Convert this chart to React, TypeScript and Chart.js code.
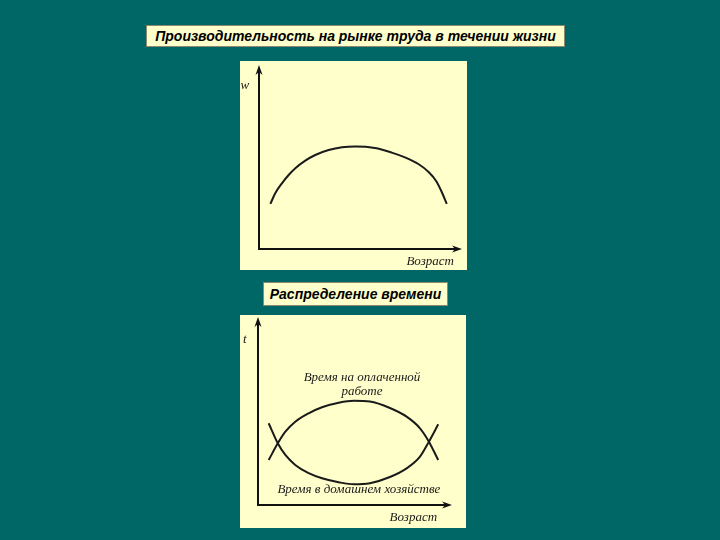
import React, { useEffect, useRef } from "react";
import { Chart, registerables } from "chart.js";

Chart.register(...registerables);

// ---- data ----
const title1 = "Производительность на рынке труда в течении жизни";
const title2 = "Распределение времени";

const ageX1 = [5.6, 8.0, 11.3, 14.6, 17.9, 22.8, 27.7, 34.3, 40.9, 47.4, 57.1, 65.4, 71.9, 78.5, 83.4, 87.5, 90.3, 92.5];
const productivity = [24.5, 30.3, 35.7, 40.2, 43.9, 48.0, 51.1, 53.8, 55.3, 55.7, 54.9, 52.4, 49.8, 46.2, 42.0, 36.6, 30.3, 24.5];

const ageX2 = [5.5, 10.2, 14.1, 19.2, 26.1, 33.0, 41.6, 49.5, 57.7, 68.0, 76.6, 83.5, 88.1, 92.9];
const paidWork = [23.9, 32.8, 39.0, 44.3, 48.8, 52.0, 54.4, 55.4, 55.0, 51.6, 47.0, 40.8, 33.7, 23.9];
const houseWork = [43.5, 32.8, 26.6, 21.3, 16.9, 14.2, 12.1, 11.0, 11.6, 14.9, 19.5, 25.7, 33.7, 42.9];

const yLabel1 = "w";
const yLabel2 = "t";
const xLabel = "Возраст";
const paidLabel = ["Время на оплаченной", "работе"];
const houseLabel = "Время в домашнем хозяйстве";

type Lbl = { text: string; x: number; y: number; align: CanvasTextAlign };

const axesPlugin = {
  id: "arrowAxes",
  afterDraw(chart: any, _args: any, opts: any) {
    const ctx = chart.ctx as CanvasRenderingContext2D;
    const xs = chart.scales.x;
    const ys = chart.scales.y;
    const x0 = xs.getPixelForValue(0);
    const y0 = ys.getPixelForValue(0);
    const xr = xs.getPixelForValue(100);
    const yt = ys.getPixelForValue(100);
    ctx.save();
    ctx.strokeStyle = "#111";
    ctx.fillStyle = "#111";
    ctx.lineWidth = 2;
    ctx.beginPath();
    ctx.moveTo(x0, yt + 4);
    ctx.lineTo(x0, y0);
    ctx.lineTo(xr - 4, y0);
    ctx.stroke();
    // arrowheads
    ctx.beginPath();
    ctx.moveTo(x0, yt);
    ctx.lineTo(x0 - 3.5, yt + 10);
    ctx.lineTo(x0, yt + 7);
    ctx.lineTo(x0 + 3.5, yt + 10);
    ctx.closePath();
    ctx.fill();
    ctx.beginPath();
    ctx.moveTo(xr, y0);
    ctx.lineTo(xr - 10, y0 - 3.5);
    ctx.lineTo(xr - 7, y0);
    ctx.lineTo(xr - 10, y0 + 3.5);
    ctx.closePath();
    ctx.fill();
    // labels
    ctx.fillStyle = "#1a1a1a";
    ctx.textBaseline = "middle";
    ctx.font = "italic 13px 'Liberation Serif', 'DejaVu Serif', serif";
    (opts.labels as Lbl[]).forEach((l) => {
      ctx.textAlign = l.align;
      ctx.fillText(l.text, xs.getPixelForValue(l.x), ys.getPixelForValue(l.y));
    });
    ctx.restore();
  },
};

function makeChart(
  canvas: HTMLCanvasElement,
  datasets: { xs: number[]; ys: number[] }[],
  padding: { left: number; right: number; top: number; bottom: number },
  labels: Lbl[]
) {
  return new Chart(canvas, {
    type: "line",
    data: {
      datasets: datasets.map((d) => ({
        data: d.xs.map((x, i) => ({ x, y: d.ys[i] })),
        borderColor: "#1a1a1a",
        borderWidth: 2,
        pointRadius: 0,
        cubicInterpolationMode: "monotone" as const,
        fill: false,
      })),
    },
    options: {
      animation: false,
      responsive: false,
      layout: { padding },
      scales: {
        x: { type: "linear", min: 0, max: 100, display: false },
        y: { type: "linear", min: 0, max: 100, display: false },
      },
      plugins: {
        legend: { display: false },
        tooltip: { enabled: false },
        arrowAxes: { labels },
      } as any,
    },
    plugins: [axesPlugin],
  });
}

const titleStyle: React.CSSProperties = {
  position: "absolute",
  background: "#FFFFCC",
  border: "1px solid #8a8a70",
  boxSizing: "border-box",
  font: "italic bold 14px 'Liberation Sans', Arial, sans-serif",
  color: "#000",
  display: "flex",
  alignItems: "center",
  justifyContent: "center",
  whiteSpace: "nowrap",
};

export default function App() {
  const c1 = useRef<HTMLCanvasElement>(null);
  const c2 = useRef<HTMLCanvasElement>(null);

  useEffect(() => {
    const ch1 = makeChart(
      c1.current!,
      [{ xs: ageX1, ys: productivity }],
      { left: 19, right: 5, top: 4, bottom: 21 },
      [
        { text: yLabel1, x: -9.1, y: 89, align: "left" },
        { text: xLabel, x: 96, y: -7, align: "right" },
      ]
    );
    const ch2 = makeChart(
      c2.current!,
      [
        { xs: ageX2, ys: paidWork },
        { xs: ageX2, ys: houseWork },
      ],
      { left: 18, right: 14, top: 2, bottom: 23 },
      [
        { text: yLabel2, x: -7.7, y: 88, align: "left" },
        { text: paidLabel[0], x: 53.6, y: 67.6, align: "center" },
        { text: paidLabel[1], x: 53.6, y: 60.1, align: "center" },
        { text: houseLabel, x: 52, y: 8, align: "center" },
        { text: xLabel, x: 92.3, y: -6.9, align: "right" },
      ]
    );
    return () => {
      ch1.destroy();
      ch2.destroy();
    };
  }, []);

  return (
    <div
      style={{
        position: "fixed",
        left: 0,
        top: 0,
        width: 720,
        height: 540,
        background: "#006666",
        overflow: "hidden",
      }}
    >
      <div style={{ ...titleStyle, left: 146, top: 25, width: 419, height: 22 }}>{title1}</div>
      <div style={{ ...titleStyle, left: 263, top: 282, width: 185, height: 24 }}>{title2}</div>
      <div style={{ position: "absolute", left: 240, top: 61, width: 227, height: 209, background: "#FFFFCC" }}>
        <canvas ref={c1} width={227} height={209} style={{ display: "block" }} />
      </div>
      <div style={{ position: "absolute", left: 240, top: 315, width: 226, height: 213, background: "#FFFFCC" }}>
        <canvas ref={c2} width={226} height={213} style={{ display: "block" }} />
      </div>
    </div>
  );
}
